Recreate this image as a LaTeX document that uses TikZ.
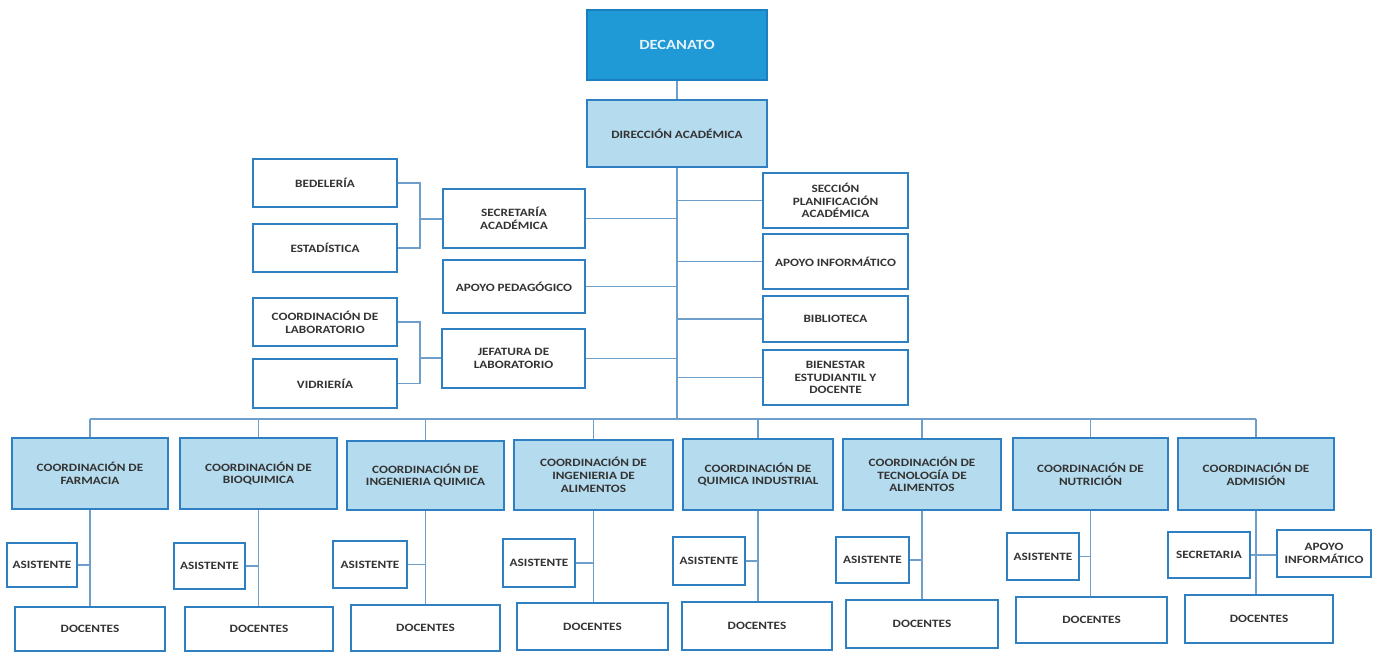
\documentclass[tikz,border=0pt]{standalone}
\usepackage{fontspec}
\newfontfamily\boxfont{Carlito}[FakeStretch=1.18]
\definecolor{bcol}{HTML}{2E80C2}
\definecolor{lcol}{HTML}{6E9FCB}
\definecolor{lfill}{HTML}{B5DBEE}
\definecolor{dfill}{HTML}{1F9AD6}
\definecolor{dbord}{HTML}{1A7EBF}
\definecolor{tcol}{HTML}{333333}
\tikzset{
  bx/.style={draw=bcol, line width=2.6pt, fill=white, align=center, inner sep=1pt,
    text=tcol, font=\boxfont\bfseries\fontsize{11.2}{12.8}\selectfont},
  coordbox/.style={bx, fill=lfill},
  decbox/.style={bx, fill=dfill, draw=dbord, text=white!88!dfill, font=\boxfont\bfseries\fontsize{14}{16}\selectfont},
  conn/.style={draw=lcol, line width=1.4pt},
}
\newcommand\bx[7]{\node[#7, minimum width={(#4-#2)*1pt}, minimum height={(#5-#3)*1pt}]
  (#1) at ({(#2+#4)/2},{(#3+#5)/2}) {#6};}
\begin{document}
\begin{tikzpicture}[x=1pt,y=-1pt]
\useasboundingbox (0,0) rectangle (1379,653);
% top
\bx{dec}{587}{10}{767}{80}{DECANATO}{decbox}
\bx{dir}{587}{100}{767}{167}{DIRECCIÓN ACADÉMICA}{coordbox}
% left
\bx{bed}{253}{159}{397}{207}{BEDELERÍA}{bx}
\bx{est}{253}{224}{397}{272}{ESTADÍSTICA}{bx}
\bx{clab}{253}{298}{397}{346}{COORDINACIÓN DE\\LABORATORIO}{bx}
\bx{vid}{253}{359}{397}{408}{VIDRIERÍA}{bx}
\bx{sec}{443}{189}{585}{248}{SECRETARÍA\\ACADÉMICA}{bx}
\bx{apo}{443}{260}{585}{313}{APOYO PEDAGÓGICO}{bx}
\bx{jef}{442}{329}{585}{388}{JEFATURA DE\\LABORATORIO}{bx}
% right
\bx{spa}{763}{173}{908}{228}{SECCIÓN\\PLANIFICACIÓN\\ACADÉMICA}{bx}
\bx{api}{763}{234}{908}{289}{APOYO INFORMÁTICO}{bx}
\bx{bib}{763}{296}{908}{342}{BIBLIOTECA}{bx}
\bx{bie}{763}{350}{908}{405}{BIENESTAR\\ESTUDIANTIL Y\\DOCENTE}{bx}
% coordinations
\bx{c1}{12}{438}{168}{509}{COORDINACIÓN DE\\FARMACIA}{coordbox}
\bx{c2}{180}{438}{337}{509}{COORDINACIÓN DE\\BIOQUIMICA}{coordbox}
\bx{c3}{347}{441}{504}{510}{COORDINACIÓN DE\\INGENIERIA QUIMICA}{coordbox}
\bx{c4}{514}{440}{673}{510}{COORDINACIÓN DE\\INGENIERIA DE\\ALIMENTOS}{coordbox}
\bx{c5}{683}{439}{833}{510}{COORDINACIÓN DE\\QUIMICA INDUSTRIAL}{coordbox}
\bx{c6}{843}{439}{1001}{510}{COORDINACIÓN DE\\TECNOLOGÍA DE\\ALIMENTOS}{coordbox}
\bx{c7}{1013}{438}{1168}{510}{COORDINACIÓN DE\\NUTRICIÓN}{coordbox}
\bx{c8}{1178}{438}{1334}{510}{COORDINACIÓN DE\\ADMISIÓN}{coordbox}
% assistants
\bx{a1}{7}{543}{77}{587}{ASISTENTE}{bx}
\bx{a2}{174}{543}{245}{589}{ASISTENTE}{bx}
\bx{a3}{333}{541}{407}{588}{ASISTENTE}{bx}
\bx{a4}{503}{539}{575}{587}{ASISTENTE}{bx}
\bx{a5}{673}{537}{745}{585}{ASISTENTE}{bx}
\bx{a6}{836}{537}{909}{583}{ASISTENTE}{bx}
\bx{a7}{1007}{533}{1079}{580}{ASISTENTE}{bx}
\bx{a8}{1168}{532}{1250}{578}{SECRETARIA}{bx}
\bx{a9}{1277}{530}{1371}{577}{APOYO\\INFORMÁTICO}{bx}
% docentes
\bx{d1}{15}{607}{165}{651}{DOCENTES}{bx}
\bx{d2}{185}{607}{333}{651}{DOCENTES}{bx}
\bx{d3}{351}{605}{500}{651}{DOCENTES}{bx}
\bx{d4}{517}{603}{668}{650}{DOCENTES}{bx}
\bx{d5}{682}{602}{832}{650}{DOCENTES}{bx}
\bx{d6}{846}{600}{998}{648}{DOCENTES}{bx}
\bx{d7}{1016}{597}{1167}{643}{DOCENTES}{bx}
\bx{d8}{1185}{595}{1333}{643}{DOCENTES}{bx}
% connectors
\coordinate (bus) at (0,419);
\coordinate (bk1) at (420,219);
\coordinate (bk2) at (420,358);
\path[conn] (dec) -- (dir);
\path[conn] (dir.south) -- (dir.south |- bus);
\path[conn] (c1.north |- bus) -- (c8.north |- bus);
\foreach \c in {c1,c2,c3,c4,c5,c6,c7,c8}{
  \path[conn] (\c.north |- bus) -- (\c.north);
}
\foreach \b in {sec,apo,jef}{
  \path[conn] (\b.east) -- (\b.east -| dir.south);
}
\foreach \b in {spa,api,bib,bie}{
  \path[conn] (\b.west -| dir.south) -- (\b.west);
}
\path[conn] (bed.east) -| (bk1) |- (est.east);
\path[conn] (bk1) -- (bk1 -| sec.west);
\path[conn] (clab.east) -| (bk2) |- (vid.east);
\path[conn] (bk2) -- (bk2 -| jef.west);
\foreach \i in {1,...,7}{
  \path[conn] (c\i.south) -- (c\i.south |- d\i.north);
  \path[conn] (a\i.east) -- (a\i.east -| c\i.south);
}
\path[conn] (c8.south) -- (c8.south |- d8.north);
\path[conn] (a8.east) -- (a8.east -| a9.west);
\end{tikzpicture}
\end{document}
